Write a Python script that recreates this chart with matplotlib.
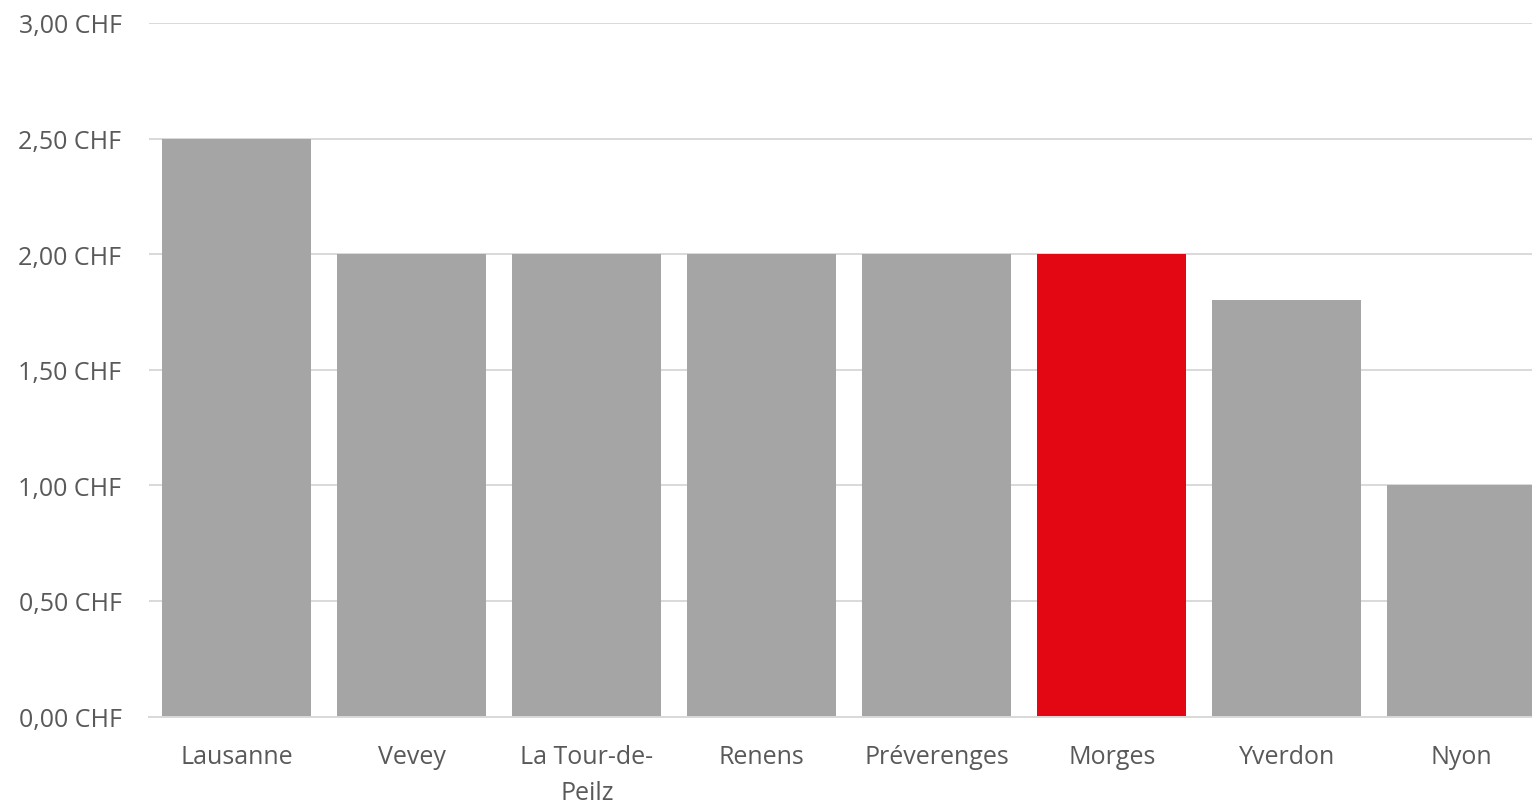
import matplotlib.pyplot as plt
from matplotlib.ticker import FuncFormatter

# données
villes = ['Lausanne', 'Vevey', 'La Tour-de-\nPeilz', 'Renens', 'Préverenges',
          'Morges', 'Yverdon', 'Nyon']
prix = [2.50, 2.00, 2.00, 2.00, 2.00, 2.00, 1.80, 1.00]
couleurs = ['#A5A5A5'] * 5 + ['#E30613'] + ['#A5A5A5'] * 2
graduations = [0, 0.5, 1.0, 1.5, 2.0, 2.5, 3.0]

plt.rcParams['font.family'] = ['Open Sans', 'DejaVu Sans']

fig = plt.figure(figsize=(15.32, 8.04), dpi=100)
ax = fig.add_axes([149.3 / 1532, 86.5 / 804, 1400 / 1532, 693.5 / 804])

x = range(len(villes))
ax.bar(x, prix, width=0.85, color=couleurs, zorder=3)

ax.set_xlim(-0.5, len(villes) - 0.5)
ax.set_ylim(0, 3)
ax.set_yticks(graduations)
ax.yaxis.set_major_formatter(FuncFormatter(lambda v, p: f'{v:.2f} CHF'.replace('.', ',')))
ax.set_xticks(list(x))
ax.set_xticklabels(villes, linespacing=1.55)

ax.grid(axis='y', color='#D9D9D9', linewidth=1.4, zorder=0)
for s in ['top', 'right', 'left']:
    ax.spines[s].set_visible(False)
ax.spines['bottom'].set_color('#D9D9D9')
ax.spines['bottom'].set_linewidth(1.4)
ax.spines['bottom'].set_zorder(4)

ax.tick_params(axis='both', length=0, labelsize=18, labelcolor='#595959')
ax.tick_params(axis='y', pad=20)
ax.tick_params(axis='x', pad=20)

fig.savefig('out.png', dpi=100)
